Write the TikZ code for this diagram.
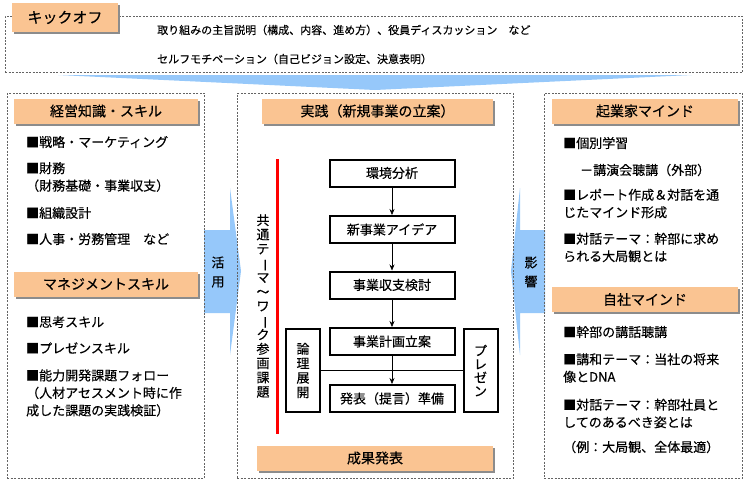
\documentclass[tikz,border=0pt]{standalone}
\usepackage{fontspec}
\usepackage{graphicx}
\setmainfont{Noto Sans CJK JP}[FakeBold=0.35]
\usetikzlibrary{arrows.meta,shadows}
\definecolor{hdr}{RGB}{250,196,146}
\definecolor{arw}{RGB}{150,200,250}
\definecolor{dsh}{RGB}{100,100,100}
\newcommand{\vr}[1]{\rotatebox[origin=c]{-90}{#1}}
\tikzset{
  dbox/.style={draw=dsh, dash pattern=on 2pt off 1.4pt, line width=0.6pt, inner sep=0, anchor=north west},
  hdrbox/.style={fill=hdr, draw=none, minimum height=25pt, inner sep=0,
    font=\fontsize{14}{16}\selectfont,
    drop shadow={shadow xshift=2.2pt, shadow yshift=-2.2pt, fill=black!45, opacity=1}},
  item/.style={anchor=west, align=left, inner sep=0, font=\fontsize{13}{17.5}\selectfont},
  kotext/.style={anchor=west, inner sep=0, font=\fontsize{11}{13}\selectfont},
  flow/.style={draw, line width=2pt, fill=white, minimum width=125pt, minimum height=27pt, inner sep=0,
    font=\fontsize{13}{15}\selectfont},
  side/.style={draw, line width=2pt, fill=white, minimum width=34pt, minimum height=83pt, inner sep=0, align=center},
  vtext/.style={align=center, inner sep=0},
  farrow/.style={-{Stealth[length=6pt,width=5pt]}, line width=0.6pt},
  bigarrow/.style={fill=arw, draw=none}
}
\begin{document}
\begin{tikzpicture}[x=1pt,y=-1pt]
\useasboundingbox[fill=white] (0,0) rectangle (750,485);

% big blue arrows (behind)
\fill[arw] (58,75) -- (692,75) -- (375,90) -- cycle;
\fill[arw] (204,230) -- (230,230) -- (230,188) -- (241,271) -- (230,355) -- (230,313) -- (204,313) -- cycle;
\fill[arw] (545,230) -- (520,230) -- (520,188) -- (511,271) -- (520,355) -- (520,313) -- (545,313) -- cycle;

% kickoff
\node[dbox, minimum width=737pt, minimum height=56pt] (K) at (5,16) {};
\node[hdrbox, minimum width=106pt, minimum height=29pt, font=\fontsize{15}{17}\selectfont] (KO) at (65,17.5) {キックオフ};
\node[kotext] (k1) at (157,30) {取り組みの主旨説明（構成、内容、進め方）、役員ディスカッション　など};
\node[kotext] (k2) at (157,59) {セルフモチベーション（自己ビジョン設定、決意表明）};

% left column
\node[dbox, minimum width=197pt, minimum height=385pt] (L) at (7,93) {};
\node[hdrbox, minimum width=184pt] (LH1) at (106,111) {経営知識・スキル};
\node[item] (l1) at (26,142) {■戦略・マーケティング};
\node[item] (l2) at (26,177) {■財務\\（財務基礎・事業収支）};
\node[item] (l3) at (26,213) {■組織設計};
\node[item] (l4) at (26,239) {■人事・労務管理　など};
\node[hdrbox, minimum width=184pt] (LH2) at (106,284) {マネジメントスキル};
\node[item] (l5) at (26,322) {■思考スキル};
\node[item] (l6) at (26,348) {■プレゼンスキル};
\node[item, font=\fontsize{13}{17.5}\selectfont] (l7) at (26,393) {■能力開発課題フォロー\\（人材アセスメント時に作\\成した課題の実践検証）};

% center column
\node[dbox, minimum width=276pt, minimum height=385pt] (C) at (237,93) {};
\node[hdrbox, minimum width=231pt] (CH) at (377.5,111) {実践（新規事業の立案）};
\draw[red, line width=3pt] (277,159) -- (277,434);
\node[vtext, font=\fontsize{13}{14.3}\selectfont] (ct) at (263,306) {共\\通\\テ\\\vr{ー}\\マ\\～\\ワ\\\vr{ー}\\ク\\参\\画\\課\\題};
\node[flow] (f1) at (392,173) {環境分析};
\node[flow] (f2) at (392,229.5) {新事業アイデア};
\node[flow] (f3) at (392,285) {事業収支検討};
\node[flow] (f4) at (392,341.5) {事業計画立案};
\node[flow] (f5) at (392,398.5) {発表（提言）準備};
\node[side, font=\fontsize{13}{14.5}\selectfont] (s1) at (303,370.5) {論\\理\\展\\開};
\node[side, font=\fontsize{13}{13.5}\selectfont] (s2) at (480.5,370.5) {プ\\レ\\ゼ\\ン};
\draw[line width=0.8pt] (s1.east) -- (s2.west);
\draw[farrow] (f1) -- (f2);
\draw[farrow] (f2) -- (f3);
\draw[farrow] (f3) -- (f4);
\draw[farrow] (f4) -- (f5);
\node[hdrbox, minimum width=236pt] (CB) at (375,458) {成果発表};

% right column
\node[dbox, minimum width=198pt, minimum height=385pt] (R) at (544,93) {};
\node[hdrbox, minimum width=186pt] (RH1) at (645,111) {起業家マインド};
\node[item] (r1) at (563,143) {■個別学習};
\node[item] (r2) at (580,170) {－講演会聴講（外部）};
\node[item] (r3) at (563,203.5) {■レポート作成＆対話を通\\じたマインド形成};
\node[item] (r4) at (563,247.5) {■対話テーマ：幹部に求め\\られる大局観とは};
\node[hdrbox, minimum width=186pt] (RH2) at (645,299.5) {自社マインド};
\node[item] (r5) at (563,332) {■幹部の講話聴講};
\node[item] (r6) at (563,368) {■講和テーマ：当社の将来\\像とDNA};
\node[item] (r7) at (563,413.5) {■対話テーマ：幹部社員と\\してのあるべき姿とは};
\node[item] (r8) at (563,447) {（例：大局観、全体最適）};

% arrow labels
\node[vtext, font=\fontsize{13}{19}\selectfont] (a1) at (218,272) {活\\用};
\node[vtext, font=\fontsize{13}{19}\selectfont] (a2) at (531,272) {影\\響};
\end{tikzpicture}
\end{document}
